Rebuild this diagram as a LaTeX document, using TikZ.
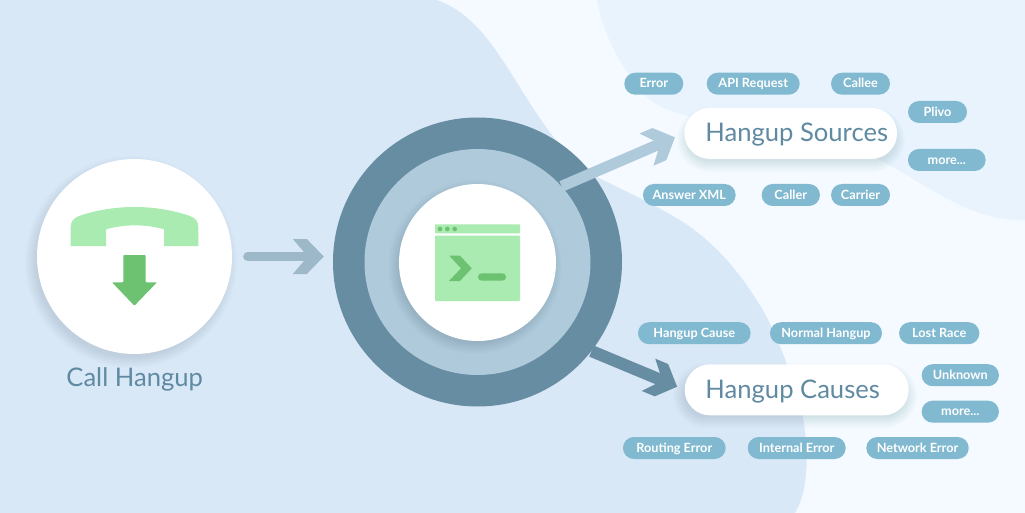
\documentclass[tikz,border=0pt]{standalone}
\usepackage{fontspec}
\setmainfont{Lato}
\usetikzlibrary{arrows.meta}
\definecolor{bgA}{HTML}{D9E8F7}
\definecolor{bgB}{HTML}{F4FAFF}
\definecolor{bgC}{HTML}{E8F3FE}
\definecolor{ringD}{HTML}{678DA3}
\definecolor{ringL}{HTML}{AECADB}
\definecolor{arrowG}{HTML}{9DB8C9}
\definecolor{pillC}{HTML}{80B9D0}
\definecolor{titleC}{HTML}{5F8AA1}
\definecolor{greenL}{HTML}{A9EBB0}
\definecolor{greenD}{HTML}{6CC270}
\definecolor{shadowC}{HTML}{30506A}
\pgfdeclarearrow{
  name=Chev,
  setup code={
    \pgfarrowssettipend{0pt}
    \pgfarrowssetlineend{-15pt}
    \pgfarrowssetvisualbackend{-15pt}
    \pgfarrowssetbackend{-31pt}
  },
  drawing code={
    \pgfpathmoveto{\pgfpoint{0pt}{0pt}}
    \pgfpathlineto{\pgfpoint{-17pt}{17.5pt}}
    \pgfpathlineto{\pgfpoint{-31pt}{17.5pt}}
    \pgfpathlineto{\pgfpoint{-16pt}{0pt}}
    \pgfpathlineto{\pgfpoint{-31pt}{-17.5pt}}
    \pgfpathlineto{\pgfpoint{-17pt}{-17.5pt}}
    \pgfpathclose
    \pgfusepathqfill
  }
}
\tikzset{
  x=1pt,y=-1pt,
  pill/.style={fill=pillC,rounded corners=11pt,minimum height=22pt,inner sep=0pt,text=white,
    text height=9.7pt,text depth=1.5pt,
    font=\fontsize{12.7}{12.7}\selectfont\bfseries},
  bigpill/.style={fill=white,rounded corners=25.5pt,minimum height=51pt,inner sep=0pt,text=titleC,
    text height=20pt,text depth=3.4pt,
    font=\fontsize{25.6}{25.6}\selectfont},
  disc/.style={circle,inner sep=0pt},
  link/.style={line cap=butt,-Chev},
}
\newcommand{\softdisc}[3]{%
  \foreach \i in {1,...,12}{\fill[shadowC,opacity=.012] (#1,#2) circle ({#3+12-\i});}}
\newcommand{\softbar}[5]{%
  \foreach \i in {1,...,12}{\fill[shadowC,opacity=.012,rounded corners={#5+12-\i}]
    ({#1-12+\i},{#2-12+\i}) rectangle ({#3+12-\i},{#4+12-\i});}}
\begin{document}
\begin{tikzpicture}
\useasboundingbox (0,0) rectangle (1025,513);
\fill[bgA] (0,0) rectangle (1025,513);
\fill[bgB] (437,0) .. controls (480,15) and (502,60) .. (530,103)
  .. controls (552,138) and (575,165) .. (597,177)
  .. controls (630,193) and (655,205) .. (680,220)
  .. controls (720,245) and (745,280) .. (763,310)
  .. controls (780,340) and (795,385) .. (803,417)
  .. controls (808,445) and (810,490) .. (795,513)
  -- (1025,513) -- (1025,0) -- cycle;
\fill[bgC] (597,0) .. controls (602,30) and (620,70) .. (650,100)
  .. controls (690,130) and (800,125) .. (873,157)
  .. controls (920,178) and (965,222) .. (1025,220)
  -- (1025,0) -- cycle;

% left disc
\softdisc{131}{262}{95}
\node[disc,fill=white,minimum size=195pt] (call) at (134.5,256.5) {};
\fill[greenL] (70.7,246) -- (106,246) -- (106,229.3)
  .. controls (125,224) and (145,224) .. (164,229.3)
  -- (164,246) -- (198.3,246) -- (198.3,227.3)
  .. controls (198.3,221) and (195,218) .. (190,216)
  .. controls (155,204) and (114,204) .. (79,216)
  .. controls (74,218) and (70.7,221) .. (70.7,227.3) -- cycle;
\fill[greenD,rounded corners=.8pt] (123.3,255) -- (145.7,255) -- (145.7,282.3) -- (157,282.3)
  -- (134.4,305.7) -- (112,282.3) -- (123.3,282.3) -- cycle;
\node[text=titleC,font=\fontsize{25.6}{25.6}\selectfont,inner sep=0pt,anchor=base] (calllabel) at (134.7,386.5) {Call Hangup};

% hub
\node[disc,fill=ringD,minimum size=289pt] (hub) at (477.5,262) {};
\node[disc,fill=ringL,minimum size=226pt] (ring) at (477.5,262) {};
\softdisc{475}{267}{76}
\node[disc,fill=white,minimum size=157pt] (core) at (477.5,262.5) {};
\fill[greenL,rounded corners=.8pt] (435,224.3) rectangle (520,233.3);
\fill[greenL,rounded corners=.8pt] (435,235.7) rectangle (520,301);
\fill[greenD] (440,229) circle (2.3) (447.3,229) circle (2.3) (454.7,229) circle (2.3);
\fill[greenD] (449.3,255.7) -- (460,255.7) -- (471.7,268.3) -- (460,281) -- (449,281) -- (461,268.3) -- cycle;
\fill[greenD,rounded corners=3.6pt] (478,273.3) rectangle (506,280.7);

% big pills
\softbar{688}{118}{894}{161}{22}
\softbar{684}{374}{906}{417}{22}
\node[bigpill,minimum width=212.7pt] (sources) at (790.7,133.4) {\hspace*{12pt}Hangup Sources};
\node[bigpill,minimum width=224pt] (causes) at (796.7,389.8) {\hspace*{-8pt}Hangup Causes};

% connectors
\draw[link,line cap=round,color=arrowG,line width=9pt,shorten <=15.5pt,shorten >=9pt]
  (call.east) -- (call.east -| hub.west);
\draw[link,color=ringL,line width=11pt,shorten >=10pt] (ring.42) -- (sources.west);
\draw[link,color=ringD,line width=12pt,shorten >=8pt] (hub.-38) -- (causes.west);

% small pills
\node[pill,minimum width=59pt] (p1) at (653.8,83.7) {Error};
\node[pill,minimum width=93pt] (p2) at (753.2,83.7) {API Request};
\node[pill,minimum width=59pt] (p3) at (860.5,83.7) {Callee};
\node[pill,minimum width=59pt] (p4) at (937.5,112) {Plivo};
\node[pill,minimum width=77.7pt] (p5) at (946.8,160) {more...};
\node[pill,minimum width=92.7pt] (p6) at (689.3,195) {Answer XML};
\node[pill,minimum width=58.3pt] (p7) at (790.8,195) {Caller};
\node[pill,minimum width=59pt] (p8) at (860.5,195) {Carrier};
\node[pill,minimum width=112.7pt] (q1) at (694.3,333.2) {Hangup Cause};
\node[pill,minimum width=112pt] (q2) at (826,333.2) {Normal Hangup};
\node[pill,minimum width=80.3pt] (q3) at (939.2,333.2) {Lost Race};
\node[pill,minimum width=77.3pt] (q4) at (960.3,375.2) {Unknown};
\node[pill,minimum width=77.3pt] (q5) at (960.3,411.7) {more...};
\node[pill,minimum width=102.7pt] (q6) at (674.3,448) {Routing Error};
\node[pill,minimum width=98pt] (q7) at (796.7,448) {Internal Error};
\node[pill,minimum width=102.4pt] (q8) at (917.5,448) {Network Error};
\end{tikzpicture}
\end{document}
